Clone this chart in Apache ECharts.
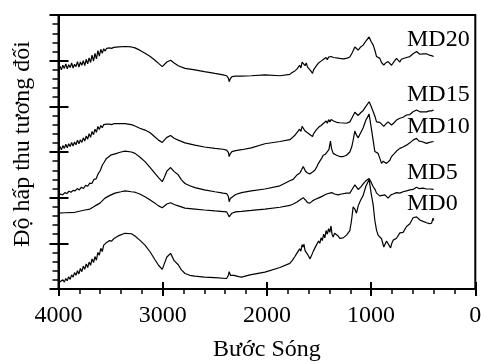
<!DOCTYPE html>
<html><head><meta charset="utf-8">
<script src="https://cdn.jsdelivr.net/npm/echarts@6/dist/echarts.min.js"></script>
<style>html,body{margin:0;padding:0;background:#fff}#c{width:481px;height:363px}</style>
</head><body><div id="c"></div>
<script>
// x ticks (wavenumber, reversed)
const xTickValues = [4000, 3000, 2000, 1000, 0];
const seriesNames = ['MD20', 'MD15', 'MD10', 'MD5', 'MD0'];
const xAxisTitle = 'Bước Sóng';
const yAxisTitle = 'Độ hấp thu tương đối';

const md20 = [[4000,4.82],[3986,4.88],[3972,4.80],[3958,4.90],[3944,4.83],[3930,4.93],[3916,4.82],[3902,4.91],[3888,4.85],[3874,4.95],[3860,4.84],[3846,4.92],[3832,4.87],[3818,4.98],[3804,4.86],[3790,4.97],[3776,4.90],[3762,5.00],[3748,4.89],[3734,5.03],[3720,4.93],[3706,5.06],[3692,4.96],[3678,5.12],[3664,4.99],[3650,5.16],[3636,5.04],[3622,5.22],[3608,5.10],[3594,5.25],[3580,5.16],[3566,5.26],[3552,5.21],[3538,5.27],[3524,5.25],[3510,5.28],[3490,5.27],[3470,5.29],[3420,5.30],[3362,5.31],[3300,5.30],[3266,5.28],[3220,5.23],[3170,5.16],[3120,5.09],[3074,5.01],[3040,4.94],[3004,4.87],[2985,4.91],[2960,4.97],[2924,5.01],[2890,4.95],[2851,4.89],[2786,4.83],[2691,4.80],[2600,4.76],[2499,4.72],[2420,4.69],[2387,4.67],[2370,4.62],[2362,4.54],[2352,4.60],[2336,4.65],[2300,4.66],[2243,4.66],[2150,4.67],[2019,4.69],[1875,4.67],[1780,4.70],[1770,4.70],[1758,4.74],[1746,4.70],[1734,4.77],[1722,4.73],[1710,4.82],[1698,4.78],[1686,4.90],[1674,4.84],[1662,4.97],[1652,4.93],[1644,5.00],[1634,4.89],[1622,4.95],[1610,4.86],[1598,4.88],[1586,4.80],[1574,4.79],[1562,4.72],[1552,4.80],[1540,4.84],[1528,4.88],[1516,4.86],[1504,4.95],[1492,4.91],[1480,4.99],[1468,4.95],[1456,5.03],[1444,4.99],[1432,5.07],[1420,5.02],[1408,5.08],[1396,5.04],[1384,5.09],[1372,5.06],[1360,5.07],[1300,5.05],[1268,5.04],[1236,5.05],[1204,5.08],[1180,5.18],[1156,5.30],[1140,5.27],[1124,5.23],[1100,5.30],[1076,5.34],[1050,5.43],[1019,5.52],[1000,5.42],[980,5.34],[960,5.20],[948,5.09],[933,5.07],[916,5.05],[900,4.96],[878,4.90],[860,4.95],[837,4.98],[820,4.94],[804,4.90],[780,4.98],[756,5.05],[740,5.01],[724,4.97],[710,5.03],[693,5.06],[660,5.07],[628,5.09],[597,5.15],[580,5.18],[564,5.20],[548,5.17],[532,5.14],[500,5.15],[468,5.15],[440,5.12],[420,5.11],[400,5.09]];

const md15 = [[4000,3.06],[3986,3.12],[3972,3.05],[3958,3.14],[3944,3.08],[3930,3.17],[3916,3.09],[3902,3.18],[3888,3.12],[3874,3.21],[3860,3.13],[3846,3.22],[3832,3.16],[3818,3.26],[3804,3.18],[3790,3.27],[3776,3.21],[3762,3.31],[3748,3.24],[3734,3.35],[3720,3.28],[3706,3.40],[3692,3.32],[3678,3.45],[3664,3.38],[3650,3.50],[3636,3.43],[3622,3.56],[3608,3.49],[3594,3.58],[3580,3.53],[3566,3.60],[3552,3.56],[3538,3.61],[3524,3.59],[3510,3.61],[3490,3.60],[3470,3.62],[3420,3.62],[3362,3.62],[3300,3.60],[3266,3.57],[3220,3.52],[3170,3.48],[3120,3.42],[3074,3.33],[3040,3.26],[3004,3.21],[2985,3.26],[2960,3.32],[2924,3.36],[2890,3.30],[2851,3.26],[2786,3.20],[2691,3.15],[2600,3.11],[2499,3.08],[2420,3.06],[2387,3.04],[2370,2.99],[2362,2.90],[2352,2.96],[2336,3.01],[2300,3.03],[2243,3.05],[2150,3.09],[2019,3.18],[1875,3.23],[1780,3.27],[1770,3.26],[1758,3.31],[1746,3.28],[1734,3.36],[1722,3.32],[1710,3.43],[1698,3.39],[1686,3.50],[1674,3.45],[1662,3.56],[1652,3.52],[1644,3.57],[1634,3.46],[1622,3.50],[1610,3.42],[1598,3.43],[1586,3.38],[1574,3.39],[1562,3.34],[1552,3.40],[1540,3.44],[1528,3.48],[1516,3.46],[1504,3.54],[1492,3.50],[1480,3.58],[1468,3.55],[1456,3.63],[1444,3.59],[1432,3.68],[1420,3.63],[1408,3.71],[1396,3.66],[1384,3.71],[1372,3.67],[1360,3.68],[1331,3.65],[1300,3.64],[1236,3.63],[1204,3.66],[1180,3.76],[1156,3.87],[1140,3.84],[1124,3.80],[1100,3.86],[1076,3.91],[1050,4.00],[1019,4.10],[1000,4.00],[980,3.88],[960,3.76],[948,3.66],[916,3.65],[878,3.56],[860,3.61],[837,3.66],[820,3.62],[804,3.59],[780,3.64],[756,3.70],[724,3.74],[693,3.76],[660,3.81],[628,3.82],[597,3.88],[580,3.90],[564,3.92],[548,3.89],[532,3.88],[500,3.88],[468,3.88],[440,3.90],[420,3.90],[400,3.92]];

const md10 = [[4000,2.05],[3980,2.08],[3960,2.06],[3940,2.11],[3920,2.09],[3900,2.14],[3880,2.12],[3860,2.16],[3840,2.15],[3820,2.20],[3800,2.17],[3780,2.23],[3760,2.20],[3740,2.27],[3720,2.25],[3700,2.32],[3680,2.31],[3660,2.40],[3640,2.41],[3620,2.52],[3600,2.59],[3580,2.71],[3560,2.78],[3540,2.86],[3520,2.89],[3500,2.93],[3458,2.96],[3400,3.00],[3362,3.02],[3300,3.00],[3266,2.97],[3220,2.89],[3170,2.79],[3120,2.66],[3074,2.53],[3040,2.44],[3004,2.35],[2985,2.44],[2960,2.58],[2924,2.66],[2890,2.57],[2851,2.50],[2820,2.39],[2786,2.31],[2740,2.26],[2691,2.22],[2600,2.17],[2499,2.13],[2420,2.10],[2387,2.09],[2370,2.03],[2362,1.91],[2352,1.98],[2336,2.02],[2300,2.07],[2243,2.11],[2150,2.15],[2019,2.19],[1875,2.26],[1780,2.37],[1748,2.40],[1715,2.49],[1684,2.54],[1665,2.62],[1652,2.68],[1640,2.63],[1630,2.58],[1610,2.54],[1588,2.52],[1562,2.56],[1540,2.60],[1520,2.68],[1508,2.74],[1492,2.80],[1475,2.86],[1460,2.93],[1440,2.95],[1427,2.97],[1405,3.05],[1390,3.24],[1380,3.08],[1364,2.97],[1331,2.93],[1300,2.90],[1268,2.90],[1236,2.93],[1204,3.00],[1185,3.12],[1172,3.26],[1156,3.46],[1140,3.37],[1124,3.31],[1100,3.42],[1076,3.53],[1050,3.70],[1019,3.83],[1000,3.55],[980,3.25],[964,3.01],[948,3.00],[933,2.97],[916,2.86],[900,2.75],[884,2.80],[868,2.82],[852,2.75],[837,2.72],[820,2.82],[804,2.90],[780,2.96],[756,3.02],[724,3.08],[693,3.11],[660,3.15],[628,3.20],[597,3.26],[564,3.30],[540,3.24],[516,3.23],[501,3.22],[468,3.19],[440,3.21],[400,3.23]];

const md5 = [[4000,1.66],[3938,1.67],[3842,1.68],[3746,1.73],[3698,1.75],[3650,1.82],[3602,1.88],[3554,1.99],[3506,2.05],[3458,2.10],[3400,2.13],[3362,2.15],[3300,2.13],[3266,2.12],[3220,2.08],[3170,2.02],[3120,1.95],[3074,1.88],[3040,1.82],[3004,1.78],[2985,1.82],[2960,1.86],[2924,1.89],[2890,1.85],[2851,1.82],[2786,1.77],[2691,1.75],[2600,1.73],[2499,1.71],[2387,1.69],[2370,1.65],[2362,1.58],[2352,1.62],[2336,1.66],[2300,1.69],[2243,1.70],[2150,1.72],[2019,1.75],[1875,1.79],[1780,1.83],[1748,1.86],[1715,1.90],[1684,1.95],[1652,2.00],[1630,1.95],[1610,1.89],[1588,1.88],[1562,1.93],[1540,1.96],[1508,1.99],[1460,2.04],[1427,2.08],[1379,2.11],[1350,2.08],[1316,2.06],[1284,2.08],[1236,2.10],[1204,2.10],[1180,2.19],[1156,2.28],[1140,2.23],[1124,2.18],[1100,2.23],[1076,2.30],[1050,2.37],[1019,2.42],[1000,2.34],[980,2.24],[960,2.17],[948,2.10],[916,2.04],[900,2.01],[868,2.06],[837,1.99],[810,2.06],[788,2.08],[756,2.11],[724,2.10],[693,2.13],[660,2.15],[628,2.17],[597,2.18],[564,2.23],[540,2.20],[501,2.21],[468,2.19],[440,2.19],[400,2.18]];

const md0 = [[4000,0.10],[3986,0.16],[3972,0.12],[3958,0.20],[3944,0.15],[3930,0.23],[3916,0.18],[3902,0.27],[3888,0.21],[3874,0.31],[3860,0.26],[3846,0.36],[3832,0.30],[3818,0.40],[3804,0.33],[3790,0.45],[3776,0.38],[3762,0.50],[3748,0.43],[3734,0.55],[3720,0.47],[3706,0.59],[3692,0.52],[3678,0.66],[3664,0.58],[3650,0.71],[3636,0.63],[3622,0.80],[3608,0.74],[3594,0.89],[3580,0.82],[3566,0.96],[3552,0.92],[3538,1.02],[3524,0.98],[3510,1.06],[3490,1.05],[3470,1.10],[3420,1.17],[3362,1.22],[3300,1.21],[3266,1.16],[3220,1.07],[3170,0.96],[3120,0.81],[3074,0.64],[3040,0.52],[3004,0.43],[2985,0.55],[2960,0.70],[2924,0.78],[2890,0.62],[2851,0.53],[2820,0.42],[2786,0.34],[2740,0.30],[2691,0.28],[2600,0.26],[2499,0.25],[2387,0.23],[2370,0.30],[2362,0.38],[2350,0.30],[2336,0.28],[2316,0.30],[2297,0.33],[2270,0.27],[2243,0.26],[2163,0.31],[2019,0.37],[1875,0.47],[1780,0.56],[1770,0.57],[1758,0.62],[1746,0.60],[1734,0.70],[1722,0.66],[1710,0.79],[1698,0.75],[1686,0.88],[1674,0.83],[1662,0.97],[1652,0.92],[1644,0.98],[1634,0.84],[1622,0.88],[1610,0.76],[1598,0.74],[1586,0.66],[1574,0.72],[1562,0.76],[1552,0.84],[1540,0.87],[1528,0.95],[1516,0.92],[1504,1.05],[1492,1.00],[1480,1.12],[1468,1.06],[1456,1.20],[1444,1.12],[1432,1.28],[1420,1.20],[1408,1.32],[1396,1.24],[1385,1.38],[1375,1.20],[1364,1.14],[1350,1.22],[1331,1.24],[1316,1.16],[1300,1.11],[1284,1.09],[1268,1.12],[1236,1.18],[1220,1.19],[1204,1.28],[1188,1.50],[1172,1.80],[1156,1.75],[1140,1.66],[1124,1.82],[1100,1.95],[1076,2.05],[1050,2.25],[1019,2.40],[1000,2.10],[980,1.84],[964,1.50],[948,1.29],[933,1.18],[916,1.18],[900,1.10],[878,0.92],[868,0.90],[852,1.05],[837,1.07],[813,0.90],[800,1.01],[788,1.07],[756,1.11],[724,1.23],[693,1.24],[660,1.37],[628,1.43],[597,1.56],[580,1.58],[564,1.58],[532,1.51],[501,1.48],[468,1.45],[440,1.43],[420,1.44],[405,1.55],[400,1.50]];

const seriesData = [md20, md15, md10, md5, md0];
// label anchor positions for the series names (annotation text, pixels)
const labelTops = [27.5, 82.5, 115, 161, 192];

const FONT = '"Liberation Serif","Times New Roman",serif';
const chart = echarts.init(document.getElementById('c'), null, {renderer: 'canvas'});

const xBase = {type: 'value', gridIndex: 0, min: 0, max: 4000, interval: 1000, inverse: true, position: 'bottom', splitLine: {show: false}};
const yBase = {type: 'value', gridIndex: 0, min: 0, max: 6, interval: 1, position: 'left', splitLine: {show: false}};
const noTick = {show: false};

const option = {
  animation: false,
  textStyle: {fontFamily: FONT},
  grid: {left: 58.5, right: 5.7, top: 15, bottom: 74, containLabel: false, outerBoundsMode: 'none',
    show: true, borderColor: '#000', borderWidth: 2, backgroundColor: 'transparent'},
  xAxis: [
    // main axis: line, labels, title
    Object.assign({}, xBase, {
      axisLine: {show: true, onZero: false, lineStyle: {color: '#000', width: 2}},
      axisTick: noTick,
      axisLabel: {show: true, margin: 15, color: '#000', fontFamily: FONT, fontSize: 24, showMinLabel: true, showMaxLabel: true,
        formatter: v => String(v)},
      name: xAxisTitle, nameLocation: 'middle', nameGap: 49,
      nameTextStyle: {color: '#000', fontFamily: FONT, fontSize: 24}
    }),
    // outward major + minor ticks
    Object.assign({}, xBase, {
      axisLine: {show: false, onZero: false},
      axisTick: {show: true, inside: false, length: 7, lineStyle: {color: '#000', width: 2}},
      minorTick: {show: true, splitNumber: 5, length: 5, lineStyle: {color: '#000', width: 1.5}},
      axisLabel: {show: false}
    }),
    // inward part of the major ticks
    Object.assign({}, xBase, {
      offset: -7,
      axisLine: {show: false, onZero: false},
      axisTick: {show: true, inside: false, length: 7, lineStyle: {color: '#000', width: 2}},
      axisLabel: {show: false}
    })
  ],
  yAxis: [
    Object.assign({}, yBase, {
      axisLine: {show: true, onZero: false, lineStyle: {color: '#000', width: 2}},
      axisTick: noTick,
      axisLabel: {show: false},
      name: yAxisTitle, nameLocation: 'middle', nameRotate: 90, nameGap: 24,
      nameTextStyle: {color: '#000', fontFamily: FONT, fontSize: 24, padding: [0, 0, 0, 16]}
    }),
    Object.assign({}, yBase, {
      axisLine: {show: false, onZero: false},
      axisTick: {show: true, inside: false, length: 9, lineStyle: {color: '#000', width: 2}},
      minorTick: {show: true, splitNumber: 5, length: 6, lineStyle: {color: '#000', width: 1.5}},
      axisLabel: {show: false}
    }),
    Object.assign({}, yBase, {
      offset: -10,
      axisLine: {show: false, onZero: false},
      axisTick: {show: true, inside: false, length: 10, lineStyle: {color: '#000', width: 2}},
      axisLabel: {show: false}
    })
  ],
  graphic: seriesNames.map((n, i) => ({
    type: 'text', left: 407, top: labelTops[i], z: 100,
    style: {text: n, font: '24px ' + FONT, fill: '#000'}
  })),
  series: seriesNames.map((n, i) => ({
    name: n, type: 'line', xAxisIndex: 0, yAxisIndex: 0,
    data: seriesData[i], showSymbol: false, symbol: 'none', silent: true,
    lineStyle: {color: '#000', width: 1.2}
  }))
};
chart.setOption(option);
</script>
</body></html>
